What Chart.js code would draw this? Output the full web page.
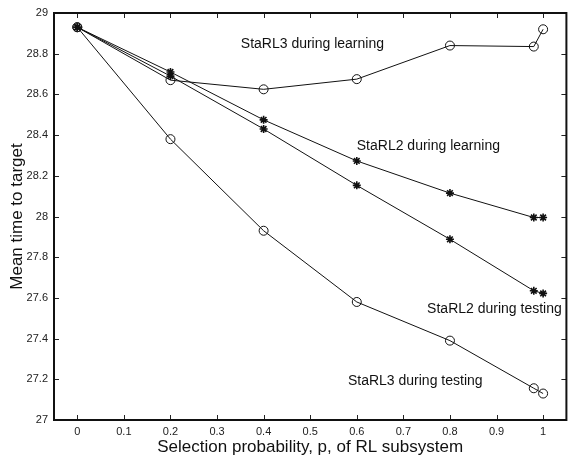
<!DOCTYPE html>
<html>
<head>
<meta charset="utf-8">
<script src="https://cdn.jsdelivr.net/npm/chart.js@4.4.1/dist/chart.umd.min.js"></script>
<style>
  html, body { margin: 0; padding: 0; background: #fff; }
</style>
</head>
<body>
<canvas id="grafico" width="572" height="460"></canvas>
<script>
// valores
const probs = [0, 0.2, 0.4, 0.6, 0.8, 0.98, 1];
const starl3Learning = [28.93, 28.67, 28.625, 28.675, 28.84, 28.835, 28.92];
const starl2Learning = [28.93, 28.71, 28.475, 28.273, 28.115, 27.995, 27.995];
const starl2Testing = [28.93, 28.69, 28.43, 28.153, 27.888, 27.635, 27.622];
const starl3Testing = [28.93, 28.38, 27.93, 27.58, 27.39, 27.156, 27.13];
const seriesNames = ["StaRL3 during learning", "StaRL2 during learning", "StaRL2 during testing", "StaRL3 during testing"];
const xTicks = [0, 0.1, 0.2, 0.3, 0.4, 0.5, 0.6, 0.7, 0.8, 0.9, 1];
const yTicks = [27, 27.2, 27.4, 27.6, 27.8, 28, 28.2, 28.4, 28.6, 28.8, 29];

const FONT = "'Liberation Sans', Arial, Helvetica, sans-serif";

const pts = vals => probs.map((p, i) => ({ x: p, y: vals[i] }));

function serie(label, vals, style) {
    const circle = style === "circle";
    return {
        label,
        data: pts(vals),
        borderColor: "#111",
        borderWidth: 1,
        pointStyle: style,
        pointRadius: circle ? 4.5 : 4,
        pointBorderWidth: circle ? 1 : 1.6,
        pointBackgroundColor: "rgba(0,0,0,0)",
        pointBorderColor: "#111",
        tension: 0,
        fill: false
    };
}

// onde ficam os rotulos de cada curva (coordenadas de dados)
const textos = [
    { t: seriesNames[0], x: 0.351, y: 28.846 },
    { t: seriesNames[1], x: 0.600, y: 28.348 },
    { t: seriesNames[2], x: 0.751, y: 27.544 },
    { t: seriesNames[3], x: 0.581, y: 27.193 }
];

const moldura = {
    id: "moldura",
    afterDatasetsDraw(chart) {
        const { ctx, chartArea: a, scales: { x, y } } = chart;
        ctx.save();
        ctx.fillStyle = "#111";
        ctx.font = "14px " + FONT;
        ctx.textAlign = "left";
        ctx.textBaseline = "middle";
        textos.forEach(o => ctx.fillText(o.t, x.getPixelForValue(o.x), y.getPixelForValue(o.y)));

        ctx.strokeStyle = "#222";
        ctx.lineWidth = 1;
        ctx.beginPath();
        xTicks.forEach(v => {
            const px = Math.round(x.getPixelForValue(v)) + 0.5;
            ctx.moveTo(px, a.bottom); ctx.lineTo(px, a.bottom - 5);
            ctx.moveTo(px, a.top); ctx.lineTo(px, a.top + 5);
        });
        yTicks.forEach(v => {
            const py = Math.round(y.getPixelForValue(v)) + 0.5;
            ctx.moveTo(a.left, py); ctx.lineTo(a.left + 5, py);
            ctx.moveTo(a.right, py); ctx.lineTo(a.right - 5, py);
        });
        ctx.stroke();

        ctx.lineWidth = 2;
        ctx.strokeStyle = "#111";
        ctx.strokeRect(a.left, a.top, a.right - a.left, a.bottom - a.top);
        ctx.restore();
    }
};

new Chart(document.getElementById("grafico"), {
    type: "line",
    data: {
        datasets: [
            serie(seriesNames[0], starl3Learning, "circle"),
            serie(seriesNames[1], starl2Learning, "star"),
            serie(seriesNames[2], starl2Testing, "star"),
            serie(seriesNames[3], starl3Testing, "circle")
        ]
    },
    options: {
        responsive: false,
        animation: false,
        layout: { padding: { top: 13, right: 1, left: 0, bottom: 0 } },
        plugins: { legend: { display: false }, tooltip: { enabled: false } },
        scales: {
            x: {
                type: "linear",
                min: -0.05,
                max: 1.05,
                afterBuildTicks: s => { s.ticks = xTicks.map(v => ({ value: v })); },
                afterFit: s => { s.height = 40; },
                grid: { display: false, drawTicks: false },
                border: { display: false },
                ticks: {
                    autoSkip: false,
                    maxRotation: 0,
                    padding: 5,
                    color: "#222",
                    font: { family: FONT, size: 11 },
                    callback: v => String(+v.toFixed(1))
                },
                title: {
                    display: true,
                    text: "Selection probability, p, of RL subsystem",
                    color: "#111",
                    font: { family: FONT, size: 17 },
                    padding: { top: 0, bottom: 2 }
                }
            },
            y: {
                min: 27,
                max: 29,
                afterBuildTicks: s => { s.ticks = yTicks.map(v => ({ value: v })); },
                afterFit: s => { s.width = 54; },
                grid: { display: false, drawTicks: false },
                border: { display: false },
                ticks: {
                    autoSkip: false,
                    padding: 6,
                    color: "#222",
                    font: { family: FONT, size: 11 },
                    callback: v => String(+v.toFixed(1))
                },
                title: {
                    display: true,
                    text: "Mean time to target",
                    color: "#111",
                    font: { family: FONT, size: 17 },
                    padding: { top: 7, bottom: 0 }
                }
            }
        }
    },
    plugins: [moldura]
});
</script>
</body>
</html>
